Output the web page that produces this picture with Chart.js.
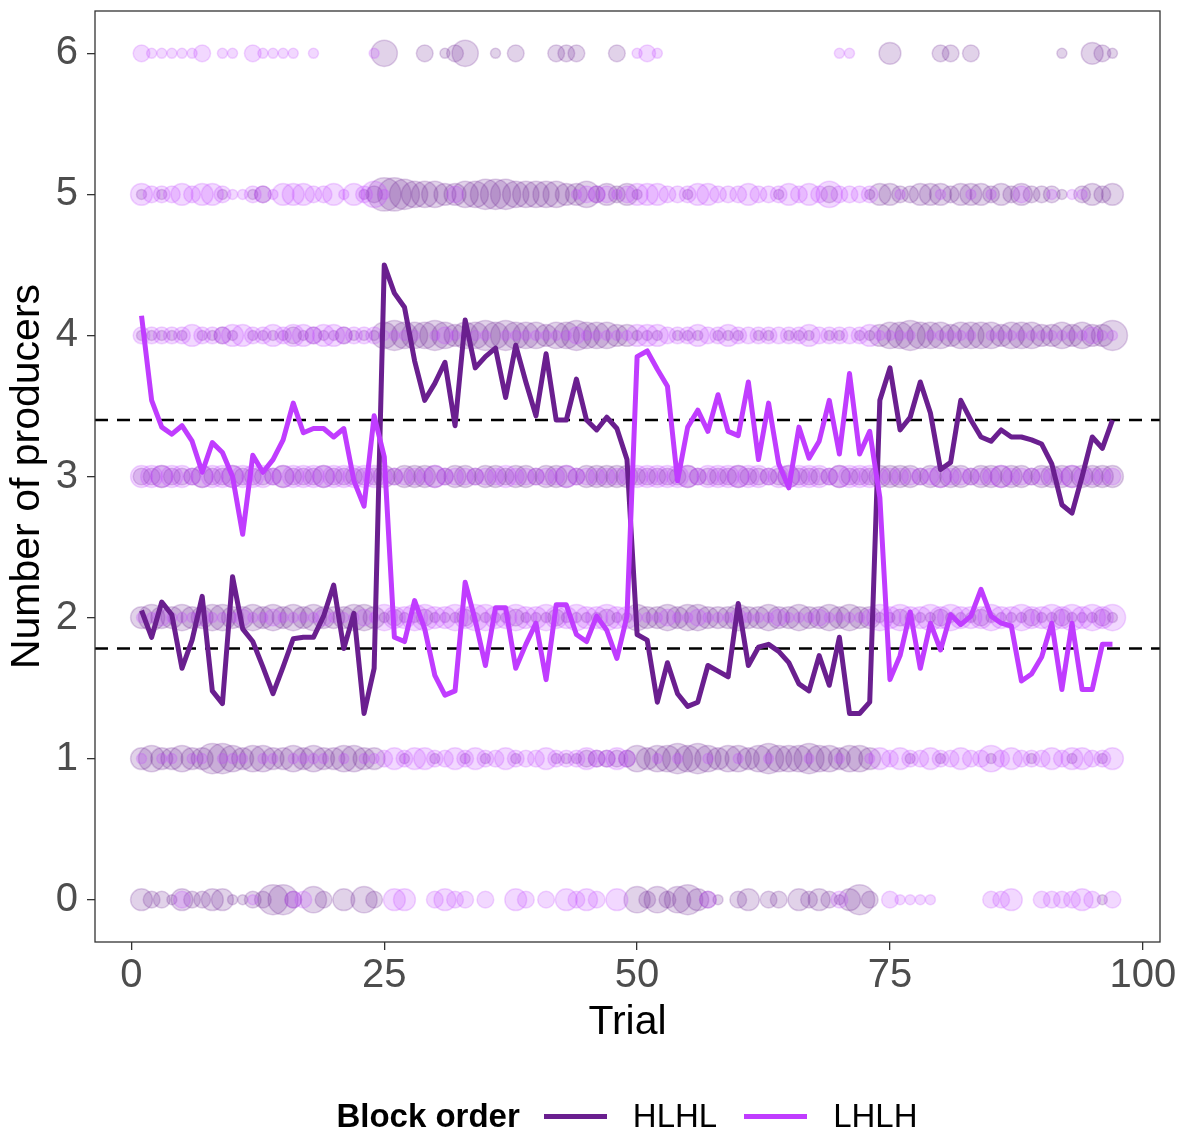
<!DOCTYPE html>
<html>
<head>
<meta charset="utf-8">
<script src="https://cdn.jsdelivr.net/npm/chart.js@4"></script>
<style>
  html, body { margin: 0; padding: 0; background: #fff; }
  #wrap { position: relative; width: 1184px; height: 1130px; }
  #legend {
    position: absolute; left: 35px; top: 1094px; width: 1184px; height: 44px;
    display: flex; justify-content: center; align-items: center;
    font-family: "Liberation Sans", Arial, sans-serif; font-size: 33px; color: #000;
  }
  .lg-title { font-weight: bold; margin-right: 24px; }
  .swatch { width: 63px; height: 5px; margin-right: 26px; }
  .lg-item { margin-right: 27px; }
  .lg-item:last-child { margin-right: 0; }
</style>
</head>
<body>
<div id="wrap">
  <canvas id="chart" width="1184" height="1130"></canvas>
  <div id="legend"></div>
</div>
<script>
// trials 1..97
const trials = Array.from({ length: 97 }, (_, i) => i + 1);
const yTicks = [0, 1, 2, 3, 4, 5, 6];
const xTicks = [0, 25, 50, 75, 100];
const groups = ['HLHL', 'LHLH'];

// média por ensaio (linhas)
const hlhlMean = [
  2.05, 1.86, 2.11, 2.02, 1.64, 1.84, 2.15, 1.48, 1.39, 2.29, 1.92, 1.83, 1.65, 1.46, 1.65, 1.85, 1.86, 1.86, 2.01, 2.23, 1.78, 2.03, 1.32, 1.64,
  4.50, 4.30, 4.20, 3.82, 3.54, 3.66, 3.81, 3.36, 4.11, 3.77, 3.85, 3.91, 3.56, 3.93, 3.67, 3.43, 3.87, 3.40, 3.40, 3.69, 3.40, 3.33, 3.42, 3.34, 3.12,
  1.88, 1.84, 1.40, 1.68, 1.46, 1.37, 1.40, 1.66, 1.62, 1.58, 2.10, 1.66, 1.79, 1.81, 1.76, 1.68, 1.53, 1.48, 1.73, 1.52, 1.86, 1.32, 1.32, 1.40,
  3.54, 3.77, 3.33, 3.42, 3.67, 3.45, 3.05, 3.10, 3.54, 3.40, 3.28, 3.25, 3.33, 3.28, 3.28, 3.26, 3.23, 3.09, 2.80, 2.74, 3.00, 3.28, 3.20, 3.40
];
const lhlhMean = [
  4.14, 3.54, 3.35, 3.30, 3.36, 3.25, 3.03, 3.24, 3.17, 3.00, 2.59, 3.15, 3.03, 3.12, 3.26, 3.52, 3.31, 3.34, 3.34, 3.28, 3.34, 2.97, 2.79, 3.43,
  3.14, 1.86, 1.83, 2.12, 1.92, 1.59, 1.45, 1.48, 2.25, 1.98, 1.66, 2.07, 2.07, 1.64, 1.81, 1.96, 1.56, 2.09, 2.09, 1.88, 1.83, 2.01, 1.91, 1.71, 2.01,
  3.85, 3.89, 3.76, 3.64, 2.97, 3.35, 3.47, 3.32, 3.58, 3.32, 3.29, 3.67, 3.12, 3.52, 3.09, 2.92, 3.35, 3.13, 3.25, 3.54, 3.16, 3.73, 3.16, 3.32,
  2.85, 1.56, 1.73, 2.04, 1.64, 1.96, 1.77, 2.02, 1.95, 2.01, 2.20, 2.01, 1.96, 1.94, 1.55, 1.60, 1.72, 1.96, 1.49, 1.96, 1.49, 1.49, 1.81, 1.81
];

// linhas de referência tracejadas
const refLevels = [3.40, 1.78];

// número de grupos em cada nível de produtores, por ensaio
const hlhl0 = [
  3,2,2,1,3,2,2,3,3,1,1,2,2,5,5,2,0,4,2,0,3,0,4,2,
  0,0,0,0,0,0,0,0,0,0,0,0,0,0,0,0,0,0,0,0,0,0,0,0,0,
  4,2,4,2,4,5,3,2,1,0,2,3,0,2,2,0,3,2,3,2,1,3,5,2,
  0,0,0,0,0,0,0,0,0,0,0,0,0,0,0,0,0,0,0,0,0,0,1,0
];
const lhlh0 = [
  0,0,0,0,2,0,0,0,0,0,0,1,0,0,0,2,2,0,0,0,0,0,0,0,
  0,3,3,0,0,2,3,2,2,0,2,0,0,3,2,0,2,0,3,2,3,2,0,3,0,
  0,0,0,0,0,0,0,2,0,0,0,0,0,0,0,0,0,0,0,0,2,0,0,0,
  0,2,1,1,1,1,0,0,0,0,0,2,2,3,0,0,2,2,2,2,3,2,0,2
];
const hlhl1 = [
  3,4,3,3,4,3,3,5,5,4,3,4,4,3,3,4,3,4,3,3,4,4,3,3,
  0,0,1,0,0,1,0,0,1,0,1,0,0,1,0,0,0,1,1,1,2,2,2,2,2,
  4,3,4,4,5,4,5,4,3,4,4,3,4,5,4,4,4,5,4,4,3,4,4,3,
  0,0,0,1,0,0,1,0,0,0,0,1,0,0,0,1,0,0,0,1,0,0,1,0
];
const lhlh1 = [
  1,0,1,1,0,1,1,0,1,1,1,0,1,1,0,1,1,1,1,0,1,0,1,1,
  2,3,2,3,3,2,2,3,2,3,2,2,3,2,2,2,3,2,2,2,3,2,2,3,2,
  0,0,1,0,1,0,0,1,0,0,1,0,0,1,0,0,0,1,0,0,1,0,0,1,
  3,2,3,2,2,3,2,2,3,2,2,4,2,3,2,2,2,3,2,3,3,2,2,3
];
const hlhl2 = [
  3,4,3,3,4,3,3,4,4,3,3,4,3,4,3,4,3,4,3,3,3,4,4,3,
  1,2,1,1,2,1,1,1,2,1,1,1,1,2,1,1,1,2,1,1,1,1,2,1,1,
  4,3,3,4,3,4,4,3,3,3,4,3,3,4,3,3,4,3,3,4,3,4,3,3,
  1,1,2,1,1,1,2,1,1,1,2,1,1,1,1,2,1,1,2,1,1,1,2,1
];
const lhlh2 = [
  1,1,2,1,1,1,2,1,1,1,2,1,1,2,1,1,1,1,2,1,1,1,2,1,
  4,3,3,4,4,3,3,4,3,4,4,3,3,4,3,3,4,3,3,4,3,3,4,3,3,
  1,1,1,2,1,1,2,1,1,1,2,1,1,1,2,1,1,1,2,1,1,1,1,2,
  4,3,4,3,3,4,3,4,3,3,3,4,3,3,4,3,3,4,3,4,3,4,3,4
];
const hlhl3 = [
  2,2,3,2,2,2,3,2,2,3,2,2,2,2,3,2,2,2,3,2,2,2,2,2,
  3,2,3,3,3,3,2,3,3,2,3,3,2,3,3,2,3,3,3,2,3,3,3,3,3,
  2,2,2,2,2,3,2,2,2,2,3,2,2,2,2,3,2,2,2,2,3,2,2,2,
  3,3,3,3,2,3,3,3,3,2,3,3,3,3,3,2,3,3,3,3,3,3,3,3
];
const lhlh3 = [
  3,3,3,3,3,2,3,3,3,3,3,3,3,2,3,3,3,3,3,3,3,3,3,3,
  2,2,2,2,2,3,2,2,2,2,2,2,3,2,2,2,2,2,3,2,2,2,2,2,2,
  3,3,3,3,3,3,2,3,3,3,3,3,3,2,3,3,3,3,3,2,3,3,3,3,
  2,2,2,2,2,2,3,2,2,2,2,2,3,2,2,2,2,2,2,3,2,2,2,2
];
const hlhl4 = [
  1,1,1,1,1,0,1,1,2,1,0,1,1,1,1,2,1,2,1,1,2,1,1,1,
  4,5,4,4,4,5,4,3,4,4,5,4,5,4,4,4,3,4,4,5,4,4,4,3,3,
  1,1,1,0,1,1,1,0,1,1,1,0,1,1,0,1,1,1,0,1,1,0,1,1,
  3,4,4,5,4,4,4,3,4,4,4,4,3,4,4,4,3,3,4,3,4,3,3,5
];
const lhlh4 = [
  2,2,2,2,2,3,2,2,2,3,3,2,2,3,2,3,3,2,3,3,2,2,2,2,
  1,1,1,1,0,1,2,1,1,1,1,0,1,1,1,1,1,1,1,2,1,1,1,1,1,
  3,3,3,2,2,2,3,2,2,3,2,2,2,2,2,2,2,3,2,2,2,2,2,3,
  1,1,1,1,0,1,1,1,1,1,0,1,1,1,1,1,1,1,1,1,1,2,1,1
];
const hlhl5 = [
  1,0,1,0,0,0,0,0,1,0,0,1,2,0,0,0,0,0,0,0,0,0,1,2,
  6,6,5,4,4,4,3,3,4,4,5,5,5,4,4,4,4,4,3,3,4,2,3,2,3,
  1,0,0,0,0,1,0,0,0,0,0,0,0,0,1,0,0,0,0,2,0,0,0,1,
  3,3,2,2,3,3,3,2,3,3,3,2,3,2,3,2,2,2,1,0,2,3,2,3
];
const lhlh5 = [
  3,2,2,2,3,2,3,3,2,1,1,2,2,1,3,3,3,2,2,3,1,3,2,4,
  1,0,0,0,0,0,0,2,0,0,0,0,0,0,0,0,0,0,0,1,2,2,2,1,2,
  3,3,3,2,2,2,3,3,2,2,2,3,2,2,2,3,2,3,2,4,2,2,2,2,
  0,0,1,0,0,0,1,0,0,1,0,1,0,0,2,0,0,1,0,1,1,0,0,0
];
const hlhl6 = [
  0,0,0,0,0,0,0,0,0,0,0,0,0,0,0,0,0,0,0,0,0,0,0,0,
  4,0,0,0,2,0,1,2,4,0,0,1,0,2,0,0,0,2,2,2,0,0,0,2,0,
  0,0,0,0,0,0,0,0,0,0,0,0,0,0,0,0,0,0,0,0,0,0,0,0,
  0,3,0,0,0,0,2,2,0,2,0,0,0,0,0,0,0,0,1,0,0,3,2,1
];
const lhlh6 = [
  2,1,1,1,1,1,2,0,1,1,0,2,1,1,1,1,0,1,0,0,0,0,0,1,
  0,0,0,0,0,0,0,0,0,0,0,0,0,0,0,0,0,0,0,0,0,0,0,0,0,
  1,2,1,0,0,0,0,0,0,0,0,0,0,0,0,0,0,0,0,0,1,1,0,0,
  0,0,0,0,0,0,0,0,0,0,0,0,0,0,0,0,0,0,0,0,0,0,0,0
];

const hlhlRows = [hlhl0, hlhl1, hlhl2, hlhl3, hlhl4, hlhl5, hlhl6];
const lhlhRows = [lhlh0, lhlh1, lhlh2, lhlh3, lhlh4, lhlh5, lhlh6];

const corHLHL = '#6a1f8f';
const corLHLH = '#c03cff';
const FONTE = '"Liberation Sans", Arial, sans-serif';

// Função para montar os pontos das bolhas a partir das contagens
function montarBolhas(linhas) {
    const pontos = [];
    linhas.forEach((contagens, nivel) => {
        contagens.forEach((n, i) => {
            if (n > 0) pontos.push({ x: trials[i], y: yTicks[nivel], n: n });
        });
    });
    return pontos;
}

function hexRgba(hex, a) {
    const v = parseInt(hex.slice(1), 16);
    return `rgba(${(v >> 16) & 255}, ${(v >> 8) & 255}, ${v & 255}, ${a})`;
}

// raio da bolha a partir da contagem (escala de área)
function raio(n) {
    return 8.1 * Math.sqrt(n) - 3.1;
}

function datasetBolhas(label, linhas, cor, ordem) {
    return {
        type: 'bubble',
        label: label,
        data: montarBolhas(linhas),
        backgroundColor: hexRgba(cor, 0.2),
        borderColor: hexRgba(cor, 0.2),
        borderWidth: 1.5,
        radius: ctx => raio(ctx.raw ? ctx.raw.n : 1),
        order: ordem
    };
}

function datasetLinha(label, valores, cor, ordem) {
    return {
        type: 'line',
        label: label,
        data: trials.map((t, i) => ({ x: t, y: valores[i] })),
        borderColor: cor,
        backgroundColor: cor,
        borderWidth: 5,
        pointRadius: 0,
        tension: 0,
        borderJoinStyle: 'round',
        borderCapStyle: 'butt',
        fill: false,
        order: ordem
    };
}

// linhas tracejadas e moldura do painel
const painelPlugin = {
    id: 'painel',
    beforeDatasetsDraw(chart) {
        const { ctx, chartArea, scales } = chart;
        ctx.save();
        ctx.strokeStyle = '#000';
        ctx.lineWidth = 2.5;
        ctx.setLineDash([13, 9]);
        refLevels.forEach(v => {
            const y = scales.y.getPixelForValue(v);
            ctx.beginPath();
            ctx.moveTo(chartArea.left, y);
            ctx.lineTo(chartArea.right, y);
            ctx.stroke();
        });
        ctx.restore();
    },
    afterDraw(chart) {
        const { ctx, chartArea } = chart;
        ctx.save();
        ctx.strokeStyle = '#333';
        ctx.lineWidth = 1.3;
        ctx.strokeRect(chartArea.left, chartArea.top, chartArea.right - chartArea.left, chartArea.bottom - chartArea.top);
        ctx.restore();
    }
};

const ctx = document.getElementById('chart').getContext('2d');
new Chart(ctx, {
    data: {
        datasets: [
            datasetLinha(groups[1], lhlhMean, corLHLH, 0),
            datasetLinha(groups[0], hlhlMean, corHLHL, 1),
            datasetBolhas(groups[1], lhlhRows, corLHLH, 2),
            datasetBolhas(groups[0], hlhlRows, corHLHL, 3)
        ]
    },
    options: {
        responsive: false,
        animation: false,
        events: [],
        layout: { autoPadding: false, padding: { top: 11, right: 24, left: 0, bottom: 78 } },
        plugins: {
            legend: { display: false },
            tooltip: { enabled: false }
        },
        scales: {
            x: {
                type: 'linear',
                min: -3.6,
                max: 101.7,
                afterBuildTicks: s => { s.ticks = xTicks.map(v => ({ value: v })); },
                afterFit: s => { s.height = 110; s.paddingLeft = 0; s.paddingRight = 0; },
                grid: { drawOnChartArea: false, drawTicks: true, tickLength: 8, color: '#333', lineWidth: 1.3 },
                border: { display: false },
                ticks: { color: '#4d4d4d', font: { family: FONTE, size: 40 }, padding: 2, maxRotation: 0 },
                title: { display: true, text: 'Trial', color: '#000', font: { family: FONTE, size: 41 }, padding: { top: 0, bottom: 5 } }
            },
            y: {
                type: 'linear',
                min: -0.3,
                max: 6.3,
                afterBuildTicks: s => { s.ticks = yTicks.map(v => ({ value: v })); },
                afterFit: s => { s.width = 95; s.paddingTop = 0; s.paddingBottom = 0; },
                grid: { drawOnChartArea: false, drawTicks: true, tickLength: 8, color: '#333', lineWidth: 1.3 },
                border: { display: false },
                ticks: { color: '#4d4d4d', font: { family: FONTE, size: 40 }, padding: 9 },
                title: { display: true, text: 'Number of producers', color: '#000', font: { family: FONTE, size: 41 }, padding: { top: 3, bottom: 0 } }
            }
        }
    },
    plugins: [painelPlugin]
});

// legenda inferior
const legenda = document.getElementById('legend');
legenda.innerHTML = '<span class="lg-title">Block order</span>' +
    `<span class="swatch" style="background:${corHLHL}"></span><span class="lg-item">${groups[0]}</span>` +
    `<span class="swatch" style="background:${corLHLH}"></span><span class="lg-item">${groups[1]}</span>`;
</script>
</body>
</html>
